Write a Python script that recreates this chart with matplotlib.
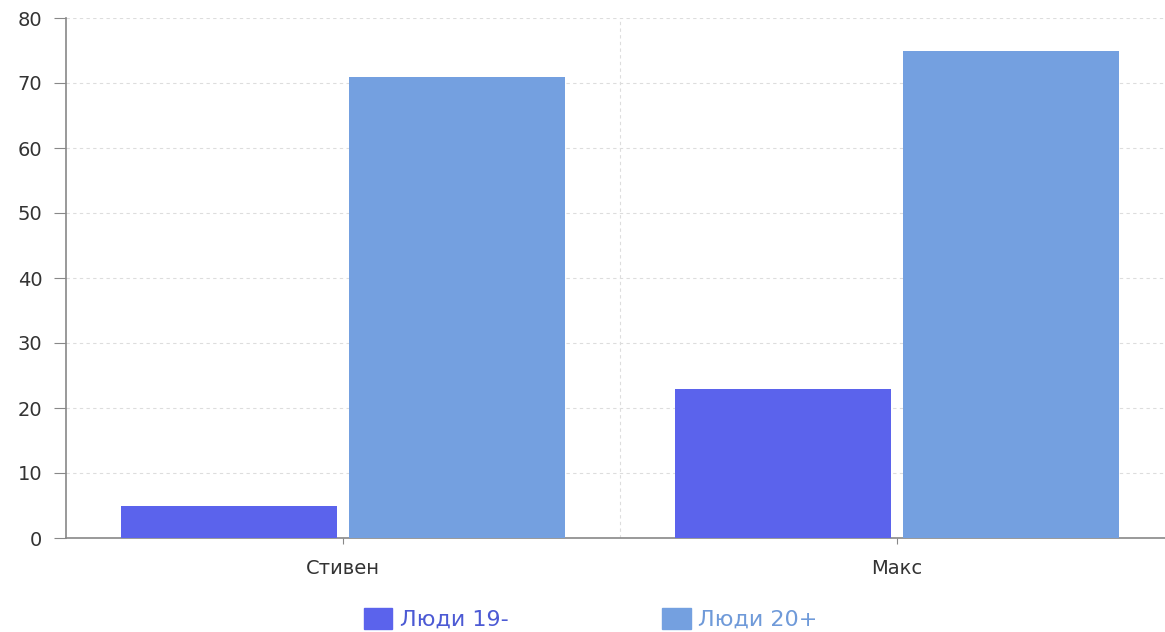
import numpy as np
import matplotlib as mpl
import matplotlib.pyplot as plt
from matplotlib.patches import Patch

# Data
categories = ['Стивен', 'Макс']
series_names = ['Люди 19-', 'Люди 20+']
young = [5, 23]
adult = [71, 75]
colors = ['#5b63ec', '#74a0e0']
text_colors = ['#4c5ad4', '#6f9ad9']

mpl.rcParams['font.family'] = ['DejaVu Sans']

fig = plt.figure(figsize=(11.65, 6.32), dpi=100)
ax = fig.add_axes([66 / 1165, 1 - 538 / 632, 1099 / 1165, 520 / 632])

x = np.arange(len(categories))
w = 0.39
ax.bar(x - 0.205, young, w, color=colors[0], zorder=3)
ax.bar(x + 0.205, adult, w, color=colors[1], zorder=3)

ax.set_xlim(-0.5, -0.5 + 1099 / 554)
ax.set_ylim(0, 80)
ax.set_yticks(np.arange(0, 81, 10))
ax.set_xticks(x)
ax.set_xticklabels(categories)

ax.grid(axis='y', color='#dddddd', ls=(0, (3, 3)), lw=0.8, zorder=0)
ax.axvline(0.5, color='#dddddd', ls=(0, (3, 3)), lw=0.8, zorder=0)

for s in ['top', 'right']:
    ax.spines[s].set_visible(False)
for s in ['left', 'bottom']:
    ax.spines[s].set_color('#888888')
    ax.spines[s].set_linewidth(1.2)
ax.tick_params(axis='y', length=9, color='#888888', labelsize=14, labelcolor='#333333', pad=8)
ax.tick_params(axis='x', length=4, color='#888888', labelsize=14, labelcolor='#333333', pad=11)

handles = [Patch(color=c) for c in colors]
leg = fig.legend(handles, series_names, loc='center', bbox_to_anchor=(591 / 1165, 1 - 619 / 632),
                 ncol=2, frameon=False, fontsize=16, handlelength=1.27, handleheight=1.1,
                 handletextpad=0.35, columnspacing=6.9)
for t, c in zip(leg.get_texts(), text_colors):
    t.set_color(c)

fig.savefig('out.png', dpi=100)
